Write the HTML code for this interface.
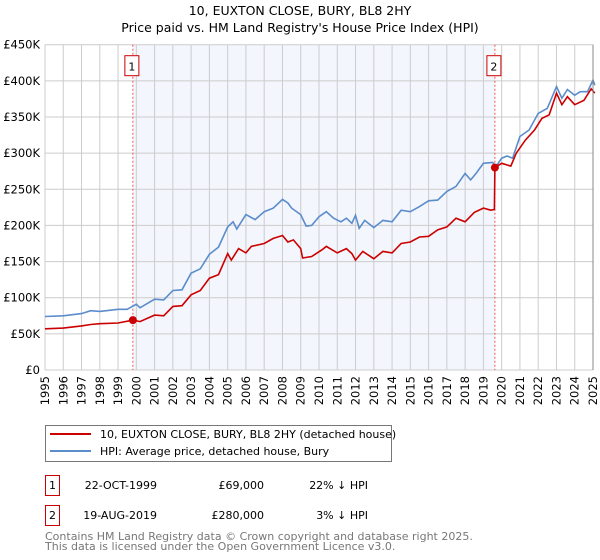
<!DOCTYPE html>
<html><head><meta charset="utf-8"><style>
body{margin:0;background:#fff;font-family:"Liberation Sans","DejaVu Sans",sans-serif;}
svg{display:block}
</style></head><body>
<svg id="chart" width="600" height="560" xmlns="http://www.w3.org/2000/svg" font-family="DejaVu Sans, Liberation Sans, sans-serif">
<text x="300" y="15" text-anchor="middle" font-size="12.5" fill="#000">10, EUXTON CLOSE, BURY, BL8 2HY</text>
<text x="300" y="32" text-anchor="middle" font-size="12.5" fill="#000">Price paid vs. HM Land Registry's House Price Index (HPI)</text>
<g id="grid"></g><g id="series"></g><g id="axes"></g>
<g>
<rect x="45.5" y="425.5" width="346" height="36" fill="#fff" stroke="#777"/>
<line x1="50" y1="434" x2="91" y2="434" stroke="#cc0000" stroke-width="2"/>
<text x="100" y="438" font-size="11">10, EUXTON CLOSE, BURY, BL8 2HY (detached house)</text>
<line x1="50" y1="451" x2="91" y2="451" stroke="#5b8ccc" stroke-width="2"/>
<text x="100" y="455" font-size="11">HPI: Average price, detached house, Bury</text>
</g>
<g font-size="11">
<rect x="45.5" y="475.5" width="14" height="20" fill="#fff" stroke="#cc0000"/>
<text x="52.5" y="489" text-anchor="middle">1</text>
<text x="157" y="489" text-anchor="end">22-OCT-1999</text>
<text x="264" y="489" text-anchor="end">£69,000</text>
<text x="368" y="489" text-anchor="end">22% ↓ HPI</text>
<rect x="45.5" y="505.5" width="14" height="20" fill="#fff" stroke="#cc0000"/>
<text x="52.5" y="519" text-anchor="middle">2</text>
<text x="157" y="519" text-anchor="end">19-AUG-2019</text>
<text x="264" y="519" text-anchor="end">£280,000</text>
<text x="368" y="519" text-anchor="end">3% ↓ HPI</text>
</g>
<text x="45" y="540" font-size="11" fill="#777">Contains HM Land Registry data © Crown copyright and database right 2025.</text>
<text x="45" y="550" font-size="11" fill="#777">This data is licensed under the Open Government Licence v3.0.</text>
</svg>
<script>
const yTicks=[0,50,100,150,200,250,300,350,400,450];
const yTickLabels=["£0","£50K","£100K","£150K","£200K","£250K","£300K","£350K","£400K","£450K"];
const xYears=[1995,1996,1997,1998,1999,2000,2001,2002,2003,2004,2005,2006,2007,2008,2009,2010,2011,2012,2013,2014,2015,2016,2017,2018,2019,2020,2021,2022,2023,2024,2025];
const hpiT=[1995,1996,1997,1997.5,1998,1999,1999.5,2000,2000.2,2001,2001.5,2002,2002.5,2003,2003.5,2004,2004.5,2005,2005.3,2005.5,2006,2006.5,2007,2007.5,2008,2008.3,2008.5,2009,2009.3,2009.6,2010,2010.4,2010.8,2011.2,2011.5,2011.8,2012,2012.2,2012.5,2013,2013.5,2014,2014.5,2015,2015.5,2016,2016.5,2017,2017.5,2018,2018.3,2018.6,2019,2019.5,2019.7,2020,2020.3,2020.6,2021,2021.5,2022,2022.5,2023,2023.3,2023.6,2024,2024.3,2024.7,2025,2025.1];
const hpiV=[74,75,78,82,81,84,84,91,86,98,97,110,111,134,140,160,170,198,205,195,215,208,219,224,236,231,224,215,199,200,212,219,210,205,210,203,214,196,207,197,207,205,221,219,226,234,235,247,254,272,263,272,286,287,282,293,296,293,323,332,355,362,392,376,388,380,385,385,401,394];
const propT=[1995,1996,1997,1997.5,1998,1999,1999.81,2000.2,2001,2001.5,2002,2002.5,2003,2003.5,2004,2004.5,2005,2005.2,2005.6,2006,2006.3,2007,2007.5,2008,2008.3,2008.6,2009,2009.1,2009.6,2010.2,2010.4,2011,2011.5,2011.8,2012,2012.4,2013,2013.5,2014,2014.5,2015,2015.5,2016,2016.5,2017,2017.5,2018,2018.5,2019,2019.4,2019.6,2019.63,2020,2020.5,2020.8,2021.3,2021.8,2022.2,2022.6,2023,2023.3,2023.6,2024,2024.5,2024.9,2025.1];
const propV=[57,58,61,63,64,65,69,67,76,75,88,89,104,110,127,132,161,152,168,162,171,175,182,186,177,180,168,155,157,167,171,162,168,161,152,164,154,164,162,175,177,184,185,194,198,210,205,218,224,221,222,280,286,282,300,318,332,348,353,383,367,378,367,373,389,383];
const saleT=[1999.81,2019.63];
const saleV=[69,280];
const saleLabels=["1","2"];
const NS="http://www.w3.org/2000/svg";
const L=45,R=593,T=44.7,B=370;
const xs=t=>L+(t-1995)/30*(R-L);
const ys=v=>B-v/450*(B-T);
function mk(tag,attrs,parent){const e=document.createElementNS(NS,tag);for(const k in attrs)e.setAttribute(k,attrs[k]);parent.appendChild(e);return e;}
const grid=document.getElementById('grid'),ser=document.getElementById('series'),ax=document.getElementById('axes');
const shade=mk('rect',{x:xs(saleT[0]),y:T,width:xs(saleT[1])-xs(saleT[0]),height:B-T,fill:'#f3f6fd'},grid);


xYears.forEach(y=>{const l=mk('line',{x1:xs(y),x2:xs(y),y1:T,y2:B,stroke:'#cccccc','stroke-width':1},grid);


const t=mk('text',{x:0,y:0,'font-size':11.5,'text-anchor':'end',transform:`translate(${xs(y)+4},${B+6}) rotate(-90)`},ax);t.textContent=y;

});
yTicks.forEach((v,i)=>{const l=mk('line',{x1:L,x2:R,y1:ys(v),y2:ys(v),stroke:'#cccccc','stroke-width':1},grid);


const t=mk('text',{x:40,y:ys(v)+4,'font-size':11.5,'text-anchor':'end'},ax);t.textContent=yTickLabels[i];

});
saleT.forEach((s,i)=>{const l=mk('line',{x1:xs(s),x2:xs(s),y1:T,y2:B,stroke:'#ee5555','stroke-width':1,'stroke-dasharray':'2,2'},grid);


const r=mk('rect',{x:xs(s)-8,y:T+11,width:14,height:20,fill:'#fff',stroke:'#cc0000'},ax);


const t=mk('text',{x:xs(s)-1,y:T+26,'font-size':11,'text-anchor':'middle'},ax);t.textContent=saleLabels[i];

});
function path(ts,vs,col,name){const d=ts.map((t,i)=>(i?'L':'M')+xs(t).toFixed(1)+','+ys(vs[i]).toFixed(1)).join('');
const p=mk('path',{d:d,fill:'none',stroke:col,'stroke-width':1.6},ser);

}
path(hpiT,hpiV,'#5b8ccc','hpi-line');
path(propT,propV,'#cc0000','property-price-line');
saleT.forEach((s,i)=>{const c=mk('circle',{cx:xs(s),cy:ys(saleV[i]),r:4,fill:'#cc0000'},ser);

});
const rl=mk('line',{x1:R,x2:R,y1:T,y2:B,stroke:'#888','stroke-width':1},ax);


</script>
</body></html>
